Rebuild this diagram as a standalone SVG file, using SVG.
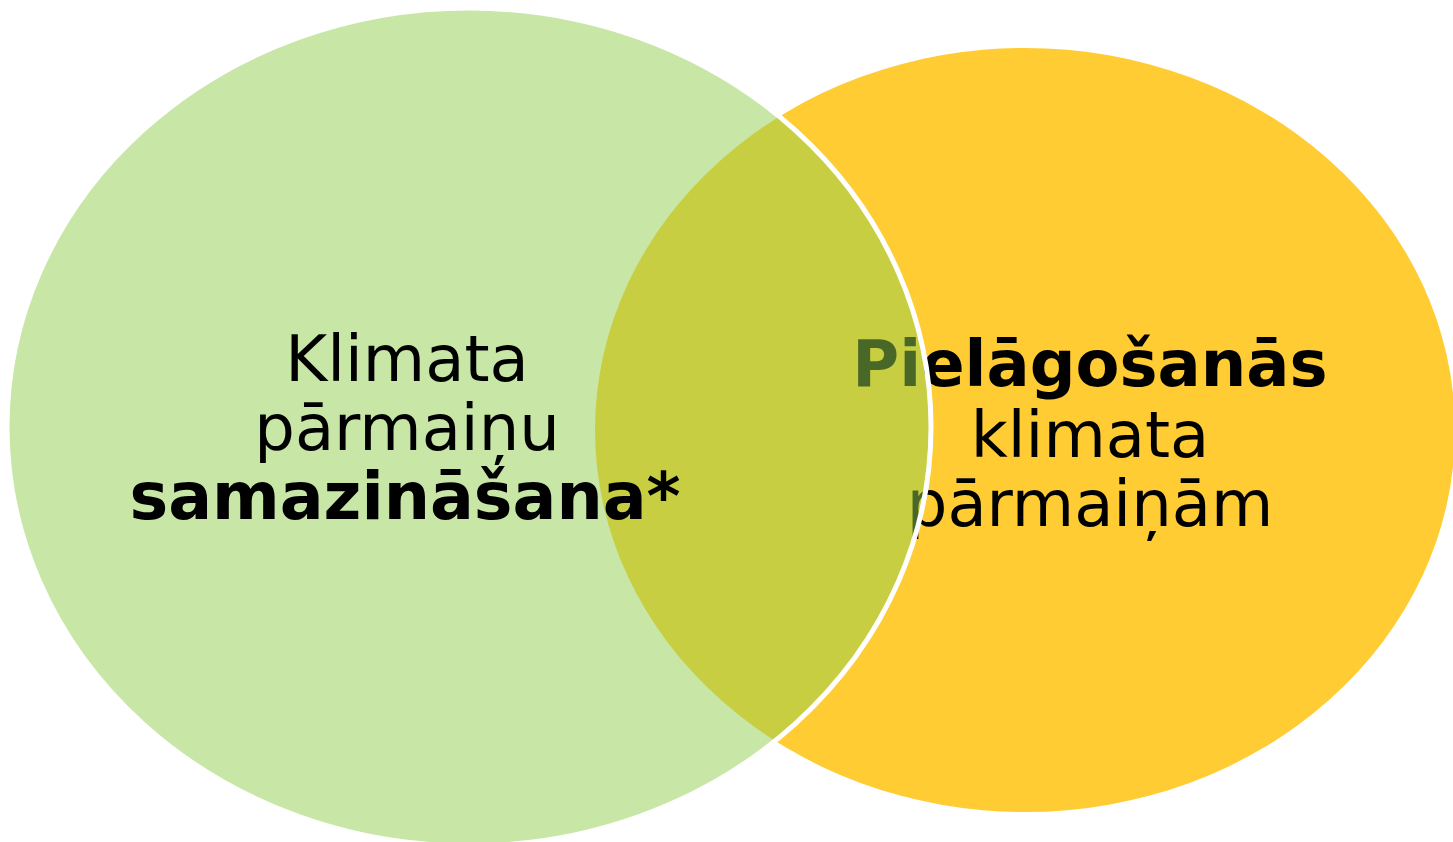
<svg xmlns="http://www.w3.org/2000/svg" width="1453" height="842" viewBox="0 0 1453 842">
<style>
.t{font-family:"DejaVu Sans","Verdana",sans-serif;font-size:64px;fill:#000;text-anchor:middle}
.b{font-weight:bold}
</style>
<rect width="1453" height="842" fill="#fff"/>
<g id="adaptation">
<ellipse cx="1025" cy="430" rx="430" ry="382" fill="#FFCC33"/>
<text class="t b" x="1090" y="386">Pielāgošanās</text>
<text class="t" x="1090" y="457">klimata</text>
<text class="t" x="1090" y="526">pārmaiņām</text>
</g>
<g id="mitigation">
<ellipse cx="469" cy="427" rx="462" ry="419" fill="#92D050" fill-opacity="0.5" stroke="#fff" stroke-width="5"/>
<text class="t" x="407" y="381">Klimata</text>
<text class="t" x="407" y="450">pārmaiņu</text>
<text class="t b" x="405" y="519" style="font-size:65px">samazināšana*</text>
</g>
<g id="connectors"></g>
</svg>
